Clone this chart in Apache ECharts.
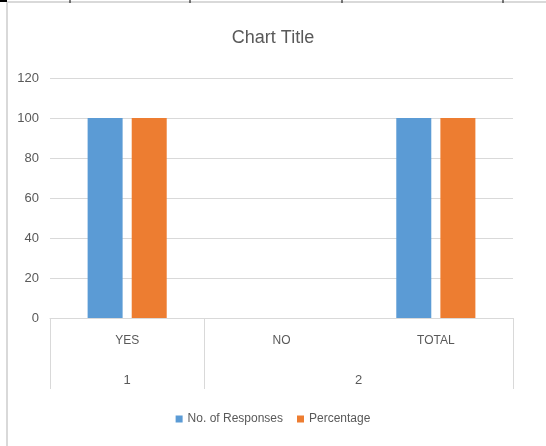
<!DOCTYPE html>
<html>
<head>
<meta charset="utf-8">
<style>
  html, body { margin: 0; padding: 0; background: #fff; }
  #main { width: 546px; height: 446px; }
</style>
<script src="https://cdn.jsdelivr.net/npm/echarts@6/dist/echarts.min.js"></script>
</head>
<body>
<div id="main"></div>
<script>
// 数据
var categories = ['YES', 'NO', 'TOTAL']
var groupLabels = ['', '1', '', '', '2', '', '']
var responses = [100, 0, 100]
var percentage = [100, 0, 100]
var yTicks = [0, 20, 40, 60, 80, 100, 120]

var font = "'Liberation Sans', sans-serif"
var textColor = '#595959'
var lineColor = '#d9d9d9'

var myChart = echarts.init(document.getElementById('main'))
myChart.setOption({
  animation: false,
  color: ['#5b9bd5', '#ed7d31'],
  textStyle: { fontFamily: font },
  title: {
    text: 'Chart Title',
    left: 268,
    top: 24,
    textAlign: 'center',
    textStyle: { color: textColor, fontSize: 18, fontWeight: 'normal', fontFamily: font }
  },
  legend: {
    top: 408,
    left: 'center',
    itemWidth: 7,
    itemHeight: 7,
    itemGap: 14,
    icon: 'rect',
    textStyle: { color: textColor, fontSize: 12, fontFamily: font },
    data: ['No. of Responses', 'Percentage']
  },
  grid: { left: 50, right: 33, top: 78, bottom: 128 },
  xAxis: [{
    type: 'category',
    data: categories,
    axisLine: { show: true, lineStyle: { color: lineColor } },
    axisTick: { show: false },
    axisLabel: { color: textColor, fontSize: 12, margin: 17, fontFamily: font }
  }, {
    type: 'category',
    position: 'bottom',
    boundaryGap: false,
    data: groupLabels,
    axisLine: { show: false },
    axisTick: {
      show: true,
      length: 71,
      interval: function (idx) { return idx === 0 || idx === 2 || idx === 6 },
      lineStyle: { color: lineColor }
    },
    axisLabel: { color: textColor, fontSize: 13, margin: 56, interval: 0, fontFamily: font }
  }],
  yAxis: {
    type: 'value',
    min: yTicks[0],
    max: yTicks[yTicks.length - 1],
    interval: 20,
    axisLine: { show: false },
    axisTick: { show: false },
    splitLine: { lineStyle: { color: lineColor } },
    axisLabel: { color: textColor, fontSize: 13, margin: 11, fontFamily: font }
  },
  series: [{
    name: 'No. of Responses',
    type: 'bar',
    data: responses,
    barWidth: 35,
    barGap: '26%'
  }, {
    name: 'Percentage',
    type: 'bar',
    data: percentage,
    barWidth: 35,
    barGap: '26%'
  }],
  graphic: [
    { type: 'rect', shape: { x: 7, y: 2, width: 600, height: 600 }, style: { fill: 'none', stroke: lineColor, lineWidth: 2 }, silent: true },
    { type: 'line', shape: { x1: 0, y1: 1, x2: 7, y2: 1 }, style: { stroke: '#000', lineWidth: 2 } },
    { type: 'line', shape: { x1: 70, y1: 0, x2: 70, y2: 3 }, style: { stroke: '#000', lineWidth: 1 } },
    { type: 'line', shape: { x1: 190, y1: 0, x2: 190, y2: 3 }, style: { stroke: '#000', lineWidth: 1 } },
    { type: 'line', shape: { x1: 342, y1: 0, x2: 342, y2: 3 }, style: { stroke: '#000', lineWidth: 1 } },
    { type: 'line', shape: { x1: 503, y1: 0, x2: 503, y2: 3 }, style: { stroke: '#000', lineWidth: 1 } }
  ]
})
window.addEventListener('resize', function () {
  myChart.resize()
})
</script>
</body>
</html>
